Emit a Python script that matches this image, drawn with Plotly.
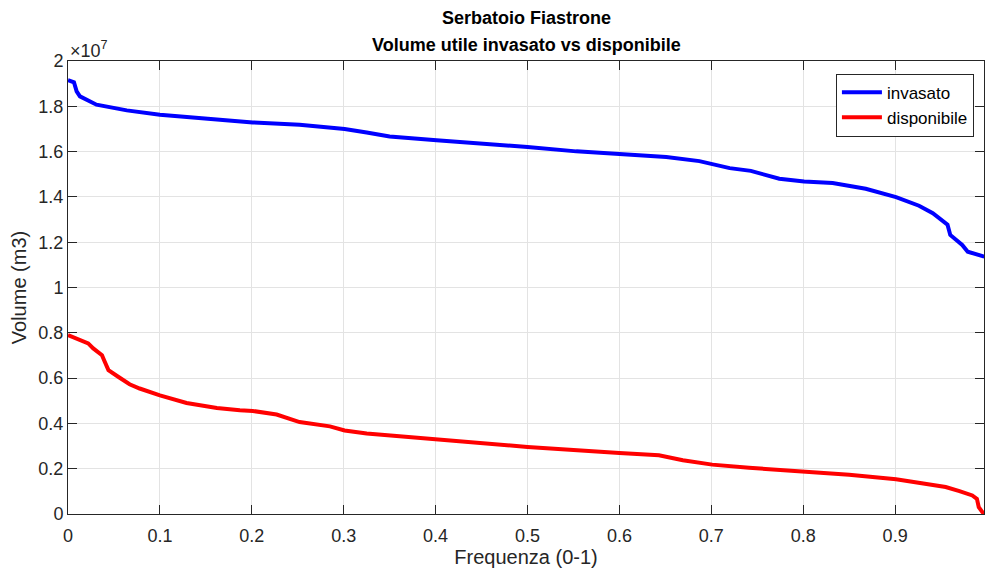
import plotly.graph_objects as go

# Duration curves of the Fiastrone reservoir volume (values in units of 10^7 m3)
freq_invasato = [0, 0.0065, 0.0094, 0.013, 0.031, 0.064, 0.1, 0.162, 0.201, 0.252,
                 0.285, 0.301, 0.325, 0.35, 0.401, 0.45, 0.5, 0.553, 0.601, 0.651, 0.687,
                 0.701, 0.72, 0.743, 0.756, 0.774, 0.801, 0.832, 0.868, 0.901, 0.926,
                 0.941, 0.957, 0.96, 0.973, 0.979, 0.997]
vol_invasato = [1.915, 1.906, 1.866, 1.844, 1.807, 1.782, 1.763, 1.744, 1.729, 1.719,
                1.707, 1.700, 1.684, 1.667, 1.650, 1.636, 1.620, 1.601, 1.588, 1.576, 1.558,
                1.546, 1.527, 1.515, 1.501, 1.480, 1.468, 1.461, 1.436, 1.399, 1.361,
                1.328, 1.277, 1.232, 1.188, 1.158, 1.136]

freq_disponibile = [0, 0.022, 0.0275, 0.037, 0.040, 0.044, 0.055, 0.067, 0.078, 0.1,
                    0.129, 0.162, 0.187, 0.201, 0.227, 0.252, 0.285, 0.301, 0.325, 0.401,
                    0.441, 0.466, 0.5, 0.6, 0.643, 0.669, 0.701, 0.741, 0.801, 0.85,
                    0.901, 0.933, 0.955, 0.97, 0.984, 0.989, 0.991, 0.995, 0.997]
vol_disponibile = [0.790, 0.753, 0.731, 0.701, 0.672, 0.635, 0.605, 0.573, 0.554, 0.524,
                   0.490, 0.468, 0.458, 0.455, 0.439, 0.406, 0.387, 0.369, 0.355, 0.328,
                   0.318, 0.308, 0.296, 0.269, 0.259, 0.237, 0.218, 0.204, 0.189, 0.173,
                   0.153, 0.134, 0.119, 0.101, 0.082, 0.067, 0.030, 0.008, 0.0]

x_ticks = [0, 0.1, 0.2, 0.3, 0.4, 0.5, 0.6, 0.7, 0.8, 0.9]
x_tick_text = ["0", "0.1", "0.2", "0.3", "0.4", "0.5", "0.6", "0.7", "0.8", "0.9"]
y_ticks = [0, 0.2, 0.4, 0.6, 0.8, 1.0, 1.2, 1.4, 1.6, 1.8, 2.0]
y_tick_text = ["0", "0.2", "0.4", "0.6", "0.8", "1", "1.2", "1.4", "1.6", "1.8", "2"]

title_lines = ["Serbatoio Fiastrone", "Volume utile invasato vs disponibile"]

FONT = "Liberation Sans, Arial, sans-serif"
AXIS_COLOR = "#262626"

fig = go.Figure()
fig.add_trace(go.Scatter(x=freq_invasato, y=vol_invasato, mode="lines", name="invasato",
                         line=dict(color="#0000ff", width=4)))
fig.add_trace(go.Scatter(x=freq_disponibile, y=vol_disponibile, mode="lines", name="disponibile",
                         line=dict(color="#ff0000", width=4)))

axis_common = dict(
    showline=True, linecolor=AXIS_COLOR, linewidth=1, mirror="ticks",
    ticks="inside", ticklen=9, tickcolor=AXIS_COLOR, tickwidth=1,
    showgrid=True, gridcolor="#e3e3e3", gridwidth=1, zeroline=False,
    tickfont=dict(family=FONT, size=18, color=AXIS_COLOR),
)

fig.update_xaxes(range=[0, 0.9967], tickvals=x_ticks, ticktext=x_tick_text,
                 ticklabelstandoff=5,
                 title=dict(text="Frequenza (0-1)", font=dict(family=FONT, size=20, color=AXIS_COLOR),
                            standoff=5),
                 **axis_common)
fig.update_yaxes(range=[0, 2], tickvals=y_ticks, ticktext=y_tick_text,
                 title=dict(text="Volume (m3)", font=dict(family=FONT, size=20, color=AXIS_COLOR),
                            standoff=6),
                 **axis_common)

fig.update_layout(
    width=985, height=570,
    margin=dict(l=68, r=1, t=61, b=56),
    paper_bgcolor="white", plot_bgcolor="white",
    legend=dict(x=0.989, xanchor="right", y=0.972, yanchor="top",
                bgcolor="white", bordercolor=AXIS_COLOR, borderwidth=1,
                font=dict(family=FONT, size=17, color="black"),
                tracegroupgap=0, itemwidth=40),
    showlegend=True,
)

# Two-line bold title centred over the plot area
for i, line in enumerate(title_lines):
    fig.add_annotation(text=f"<b>{line}</b>", xref="paper", yref="paper", x=0.5, y=1,
                       xanchor="center", yanchor="middle", showarrow=False,
                       yshift=43 - 27 * i,
                       font=dict(family=FONT, size=18, color="black"))

# Exponent marker above the y axis
fig.add_annotation(text="×10<sup>7</sup>", xref="paper", yref="paper", x=0, y=1,
                   xanchor="left", yanchor="bottom", showarrow=False, yshift=-2,
                   font=dict(family=FONT, size=18, color=AXIS_COLOR))

fig.write_html("out.html")
